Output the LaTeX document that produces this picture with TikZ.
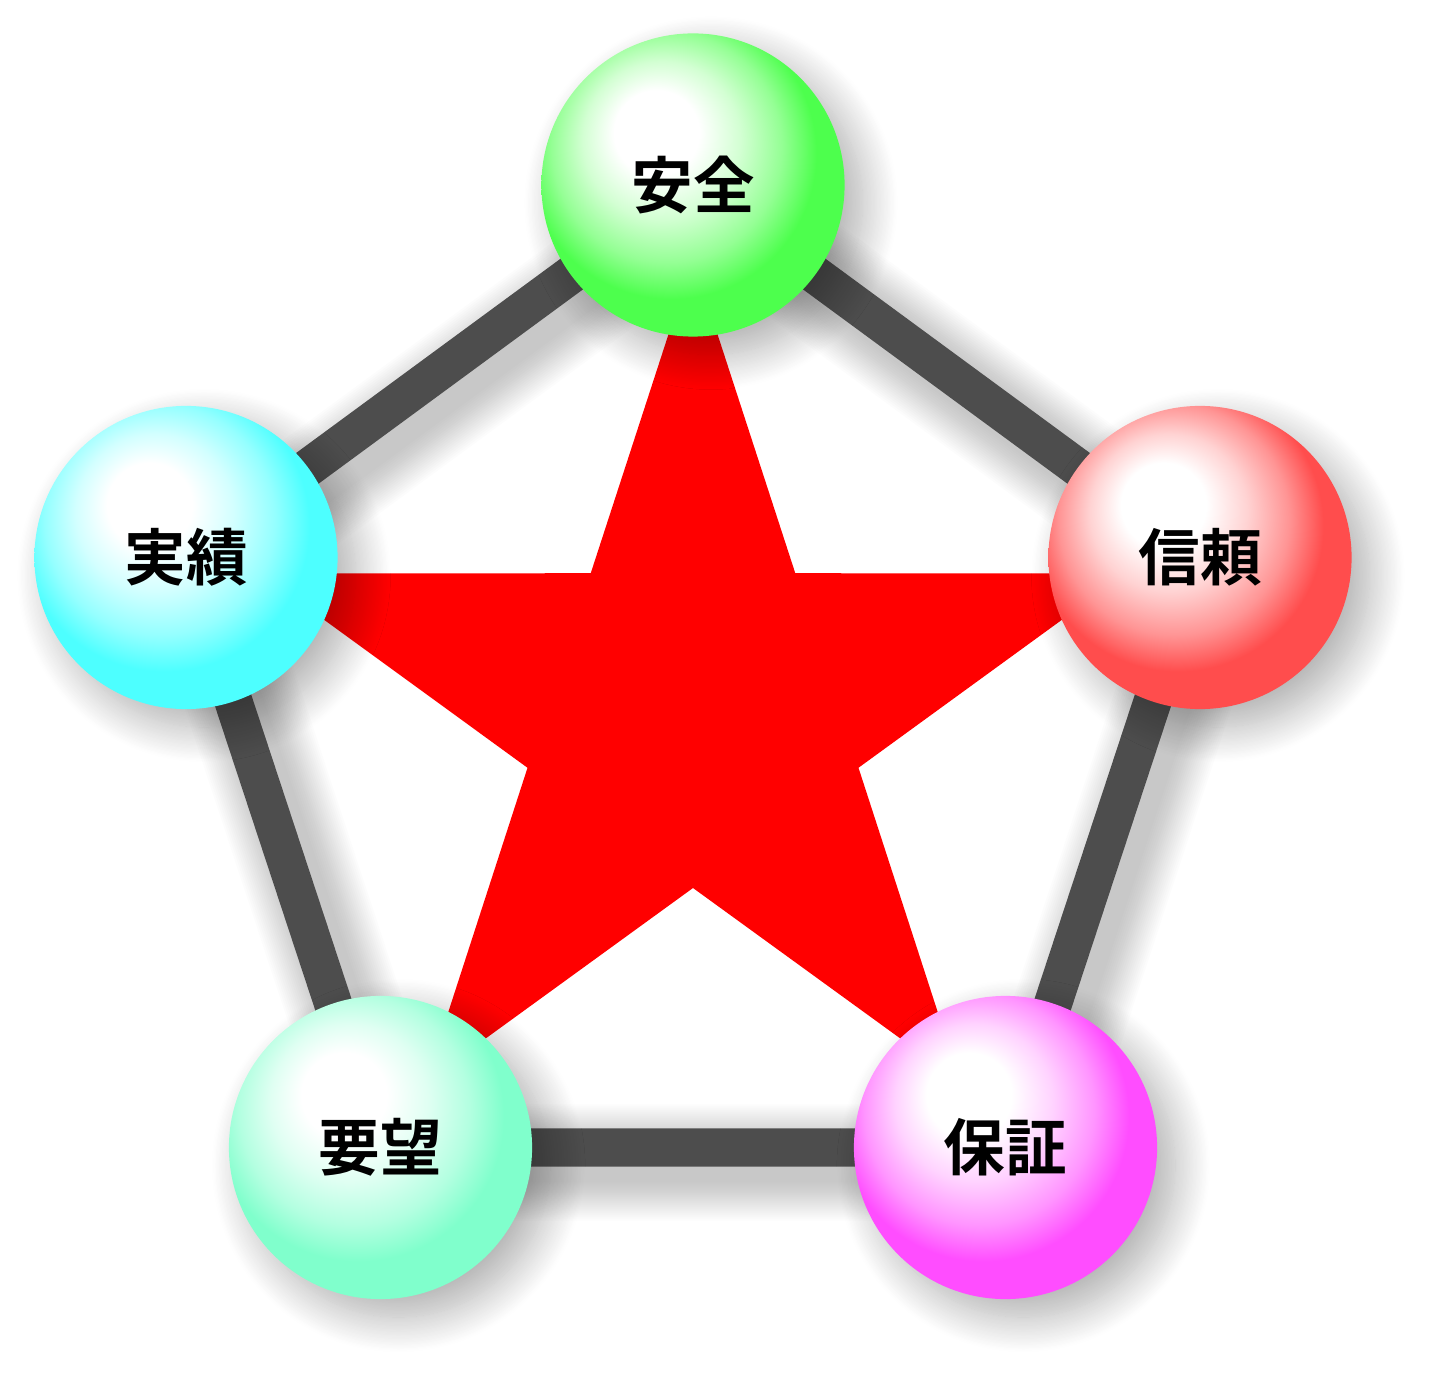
\documentclass[tikz,border=0pt]{standalone}
\usepackage{fontspec}
\newfontfamily\jpfont{Noto Sans CJK JP Bold}
\usepackage{tikz}
\usetikzlibrary{backgrounds,shadows.blur}
\definecolor{BallGreen}{HTML}{4DFF4D}
\definecolor{BallRed}{HTML}{FF4D4D}
\definecolor{BallCyan}{HTML}{4DFFFF}
\definecolor{BallMint}{HTML}{80FFCC}
\definecolor{BallPink}{HTML}{FF4DFF}
\definecolor{EdgeGray}{HTML}{4D4D4D}
\definecolor{StarRed}{HTML}{FF0000}
\newcommand{\ballshading}[2]{%
  \pgfdeclareradialshading{#1}{\pgfqpoint{-7bp}{10bp}}{%
    color(0bp)=(white); color(7bp)=(white); color(13bp)=(#2!25!white);
    color(19bp)=(#2!60!white); color(24bp)=(#2); color(50bp)=(#2)}}
\ballshading{ballgreen}{BallGreen}
\ballshading{ballred}{BallRed}
\ballshading{ballcyan}{BallCyan}
\ballshading{ballmint}{BallMint}
\ballshading{ballpink}{BallPink}
\tikzset{
  ballnode/.style={circle,minimum size=3.03cm,inner sep=0pt,
    font=\jpfont\fontsize{17.5}{20}\selectfont,
    blur shadow={shadow xshift=0.18cm,shadow yshift=-0.18cm,shadow blur radius=0.35cm,
      shadow blur steps=30,shadow opacity=32}},
  pentaline/.style={draw=EdgeGray,line width=0.38cm,line join=round},
  lineshadow/.style={draw=black,opacity=0.013,line join=round,
    transform canvas={xshift=0.15cm,yshift=-0.15cm}}
}

\begin{document}
\begin{tikzpicture}[x=0.01cm,y=-0.01cm]
  \useasboundingbox (0,0) rectangle (1443,1392);
  % spheres
  \node[ballnode,shading=ballgreen] (anzen) at (693,185) {安全};
  \node[ballnode,shading=ballred] (shinrai) at (1200,557.5) {信頼};
  \node[ballnode,shading=ballpink] (hoshou) at (1005.5,1147.5) {保証};
  \node[ballnode,shading=ballmint] (youbou) at (380.5,1147.5) {要望};
  \node[ballnode,shading=ballcyan] (jisseki) at (186,557.5) {実績};

  \begin{scope}[on background layer]
    % pentagon with soft shadow
    \foreach \w in {0.40,0.44,...,1.20}
      \draw[lineshadow,line width=\w cm] (anzen.center) -- (shinrai.center) -- (hoshou.center)
        -- (youbou.center) -- (jisseki.center) -- cycle;
    \draw[pentaline] (anzen.center) -- (shinrai.center) -- (hoshou.center)
      -- (youbou.center) -- (jisseki.center) -- cycle;
    % star
    \fill[StarRed,shift={(693,714)}] (-90:455)
      foreach \a in {-54,18,90,162,234} {-- (\a:174) -- (\a+36:455)} -- cycle;
  \end{scope}
\end{tikzpicture}
\end{document}
